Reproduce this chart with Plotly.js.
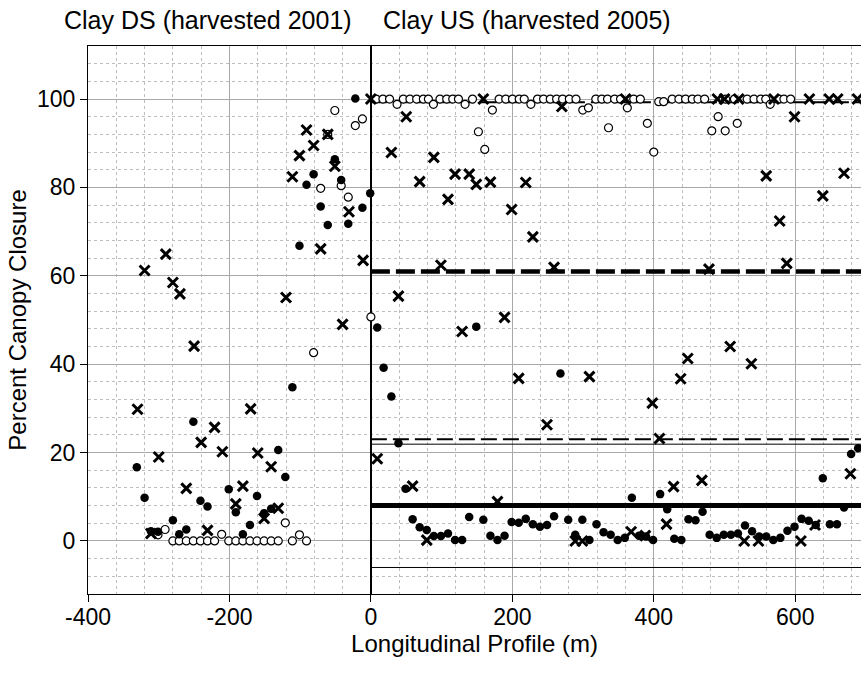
<!DOCTYPE html>
<html>
<head>
<meta charset="utf-8">
<script src="https://cdn.plot.ly/plotly-3.0.1.min.js"></script>
<style>html,body{margin:0;padding:0;background:#fff;}#chart{width:861px;height:677px;}</style>
</head>
<body>
<div id="chart"></div>
<script>
// ---- Data ----
// Filled circles
const closedX = [-331,-320,-311,-301,-280,-271,-261,-251,-241,-231,-201,-191,-181,-171,-161,-151,-141,-131,-121,-111,-101,-91,-81,-71,-61,-51,-42,-32,-22,-12,-1,
  9,18,29,39,49,59,69,79,89,99,109,119,129,139,149,159,169,179,189,199,209,219,229,239,249,259,268,279,289,299,309,319,329,339,349,359,369,379,389,399,409,419,429,439,449,459,469,479,489,499,509,519,529,539,549,559,569,579,589,599,609,619,629,639,649,659,669,679,689];
const closedY = [16.7,9.8,2.2,2.1,4.7,1.5,2.6,27.0,9.1,7.8,11.7,6.5,1.5,3.6,10.2,6.3,7.3,20.6,14.5,34.8,66.8,80.6,83.0,75.7,71.5,86.4,81.7,71.8,100.1,75.4,78.7,
  48.3,39.2,32.7,22.1,11.8,4.9,3.1,2.5,1.1,1.1,1.7,0.2,0.2,5.4,48.5,4.8,1.2,0.2,1.2,4.3,4.1,5.0,3.8,3.2,3.6,5.6,37.9,4.8,1.4,4.8,0.2,3.8,2.0,1.4,0.2,0.7,9.8,1.2,1.0,0.2,10.6,7.2,0.5,0.2,4.9,4.7,6.6,1.4,0.7,1.4,1.4,1.7,3.5,2.2,1.0,1.0,0.2,0.7,2.3,3.2,5.0,4.6,3.6,14.2,3.8,3.8,7.6,19.7,21.0];

// Open circles
const openX = [-301,-291,-280,-271,-261,-251,-241,-231,-221,-211,-201,-191,-181,-171,-161,-151,-141,-131,-121,-111,-101,-91,-81,-71,-61,-51,-42,-32,-22,-12,0,
  7.5,17,26.4,37,45.9,55.2,64.7,74.2,81.3,88.4,97.7,107.2,115.7,123.8,133.2,143.7,152,161,171.8,181.3,190.7,200.2,209.7,216.8,226.2,235.6,244.2,253.6,262.6,271.1,280.6,290,299.6,307.6,318,326.5,334.6,336,344.6,353,362.6,371.6,381,390.9,400,407,414,426,435.5,445,454.4,462.4,471.9,482,491,501,501.6,514,518,532,541.7,551.2,558.3,564.6,577,584,593.5];
const openY = [1.4,2.6,0,0,0,0,0,0,0,1.5,0,0,0,0,0,0,0,0,4.1,0,1.4,0,42.6,79.8,92.0,97.4,80.4,77.8,94.0,95.5,50.7,
  100,100,100,98.8,100,100,100,100,100,98.8,100,100,100,100,98.8,100,92.6,88.6,97.5,100,100,100,100,100,98.8,100,100,100,100,100,100,100,97.5,98.0,100,100,100,93.5,100,100,98.0,100,100,94.5,88.0,99.4,99.4,100,100,100,100,100,100,92.8,96.0,92.8,100,100,94.5,100,100,100,100,98.8,100,100,100];

// Crosses
const crossX = [-330,-320,-311,-300,-290,-280,-270,-261,-250,-240,-231,-221,-210,-191,-181,-170,-160,-151,-141,-131,-120,-111,-101,-91,-81,-71,-61,-51,-40,-31,-11,
  0,9,29,39,50,59,69,79,89,99,109,119,129,139,149,159,169,179,189,199,209,219,229,249,259,270,289,299,309,360,368,388,398,408,418,428,438,448,468,478,490,500,508,520,528,538,548,559,570,578,588,599,608,620,628,639,648,660,669,678,688];
const crossY = [29.8,61.2,1.7,19.0,64.9,58.5,55.9,11.9,44.1,22.3,2.4,25.7,20.2,8.4,12.4,29.9,19.9,5.1,16.8,7.4,55.1,82.4,87.2,93.0,89.5,66.1,92.0,84.8,49.0,74.5,63.5,
  100,18.6,87.9,55.4,96.0,12.4,81.3,0.2,86.8,62.4,77.3,83.0,47.4,83.0,80.7,100,81.2,8.9,50.6,75.0,36.8,81.1,68.8,26.3,61.9,98.3,0,0,37.2,100,2.1,1.2,31.2,23.2,3.8,12.3,36.7,41.3,13.7,61.5,100,100,44.0,100,0,40.1,0,82.6,100,72.4,62.8,96.0,0,100,3.6,78.1,100,100,83.2,15.2,100];

// Reference lines for the US reach (start at 0 m)
const refLevels = [99.3, 61, 23, 21.9, 8, -6];
const refStart = 0;
const refEnd = 693;

// Tick labels
const xTickVals = [-400,-200,0,200,400,600];
const xTickText = ['-400','-200','0','200','400','600'];
const yTickVals = [0,20,40,60,80,100];
const yTickText = ['0','20','40','60','80','100'];

const titles = ['Clay DS (harvested 2001)', 'Clay US (harvested 2005)'];

// ---- Styles ----
const FONT = 'Liberation Sans, Arial, sans-serif';
const refStyles = [
  {width: 2, dash: '16px,6px'},
  {width: 4.5, dash: '19px,6px'},
  {width: 2, dash: '16px,6px'},
  {width: 1, dash: 'solid'},
  {width: 5, dash: 'solid'},
  {width: 1, dash: 'solid'}
];

const traces = [
  {x: openX, y: openY, type: 'scatter', mode: 'markers', name: 'open',
   marker: {symbol: 'circle', size: 8, color: '#ffffff', line: {color: '#000', width: 1.2}}},
  {x: closedX, y: closedY, type: 'scatter', mode: 'markers', name: 'closed',
   marker: {symbol: 'circle', size: 8.5, color: '#000', line: {width: 0}}},
  {x: crossX, y: crossY, type: 'scatter', mode: 'markers', name: 'cross',
   marker: {symbol: 'x-thin', size: 10, color: '#000', line: {color: '#000', width: 3}}}
];

const shapes = refLevels.map((v, i) => ({
  type: 'line', xref: 'x', yref: 'y', x0: refStart, x1: refEnd, y0: v, y1: v,
  layer: 'between', line: {color: '#000', width: refStyles[i].width, dash: refStyles[i].dash}
}));

const axisCommon = {
  ticks: 'outside', ticklen: 7, tickcolor: '#000', tickwidth: 1,
  showline: true, linecolor: '#000', linewidth: 1,
  showgrid: true, gridcolor: '#a8a8a8', gridwidth: 1,
  tickfont: {family: FONT, size: 23, color: '#000'}
};

const layout = {
  width: 861, height: 677,
  margin: {l: 88, r: 0, t: 46, b: 83},
  paper_bgcolor: '#fff', plot_bgcolor: '#fff',
  showlegend: false,
  font: {family: FONT, color: '#000'},
  xaxis: Object.assign({}, axisCommon, {
    range: [-400, 693], tickmode: 'array', tickvals: xTickVals, ticktext: xTickText,
    mirror: true, ticklabelstandoff: -5,
    zeroline: true, zerolinecolor: '#000', zerolinewidth: 2.5,
    minor: {dtick: 40, tick0: 0, showgrid: true, gridcolor: '#bdbdbd', griddash: 'dot', gridwidth: 1},
    title: {text: 'Longitudinal Profile (m)', font: {family: FONT, size: 24, color: '#000'}, standoff: 0}
  }),
  yaxis: Object.assign({}, axisCommon, {
    range: [-12, 112], tickmode: 'array', tickvals: yTickVals, ticktext: yTickText,
    zeroline: false,
    minor: {dtick: 4, tick0: 0, showgrid: true, gridcolor: '#bdbdbd', griddash: 'dot', gridwidth: 1},
    title: {text: 'Percent Canopy Closure', font: {family: FONT, size: 24, color: '#000'}, standoff: 3}
  }),
  shapes: shapes,
  annotations: [
    {text: titles[0], xref: 'paper', yref: 'paper', x: (62 - 88) / 773, y: 1 + (46 - 20) / 548,
     xanchor: 'left', yanchor: 'middle', showarrow: false, font: {family: FONT, size: 25, color: '#000'}},
    {text: titles[1], xref: 'paper', yref: 'paper', x: (381 - 88) / 773, y: 1 + (46 - 20) / 548,
     xanchor: 'left', yanchor: 'middle', showarrow: false, font: {family: FONT, size: 25, color: '#000'}}
  ]
};

Plotly.newPlot('chart', traces, layout, {displayModeBar: false, staticPlot: true});
</script>
</body>
</html>
